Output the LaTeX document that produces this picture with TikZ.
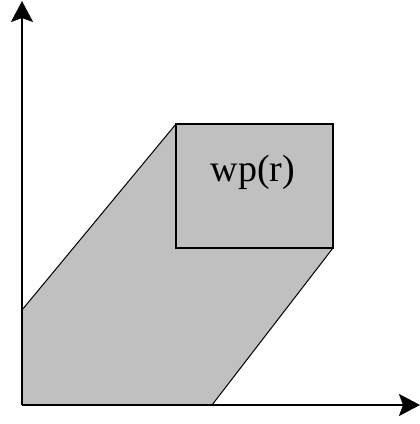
\documentclass[tikz,border=0pt]{standalone}
\usepackage{fontspec}
\setmainfont{Liberation Serif}
\usetikzlibrary{arrows.meta}
\tikzset{
  axis/.style={line width=2pt,-{Stealth[length=21pt,width=22pt,inset=4pt]}},
  region/.style={fill={rgb,255:red,192;green,192;blue,192},draw=black,line width=1pt},
  boxline/.style={draw=black,line width=2pt},
}
\begin{document}
\begin{tikzpicture}[x=1pt,y=1pt]
\useasboundingbox (0,0) rectangle (420,424);
\coordinate (O) at (22,19);
\coordinate (ytop) at (22,423);
\coordinate (xend) at (420,19);
\coordinate (A) at (22,114);
\coordinate (B) at (176,300);
\coordinate (C) at (333,300);
\coordinate (D) at (333,176);
\coordinate (E) at (212,19);
\coordinate (F) at (176,176);
\fill[fill={rgb,255:red,192;green,192;blue,192}] (O) -- (A) -- (B) -- (C) -- (D) -- (E) -- cycle;
\draw[line width=1pt] (A) -- (B);
\draw[line width=1pt] (D) -- (E);
\draw[boxline] (F) rectangle (C);
\node[font=\fontsize{38}{40}\selectfont, inner sep=0pt] (wp) at (253,252) {wp(r)};
\draw[axis] (O) -- (ytop);
\draw[axis] (O) -- (xend);
\end{tikzpicture}
\end{document}
